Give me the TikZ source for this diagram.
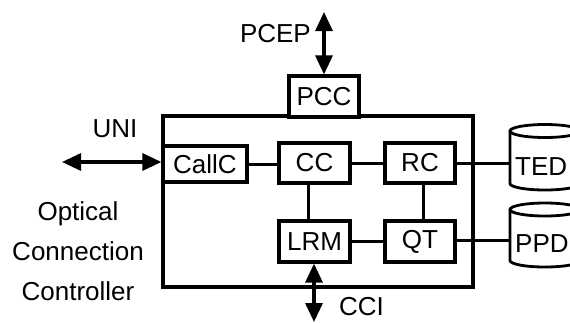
\documentclass[tikz,border=0pt]{standalone}
\usepackage{fontspec}
\setmainfont{Liberation Sans}
\usetikzlibrary{arrows.meta}
\begin{document}
\begin{tikzpicture}[x=1pt,y=-1pt,
  every node/.style={font=\fontsize{26}{31}\selectfont},
  blk/.style={draw, line width=3.2pt, inner sep=0pt, fill=white},
  conn/.style={line width=3pt},
  biarrow/.style={line width=3.2pt, {Triangle[length=19pt,width=17pt]}-{Triangle[length=19pt,width=17pt]}},
  cyl/.style={line width=2.8pt}
]
\clip (0,0) rectangle (570,322);
\fill[white] (0,0) rectangle (570,322);

% main box
\node[draw, line width=3.2pt, minimum width=310pt, minimum height=171pt, inner sep=0pt] (main) at (318,201.5) {};

% inner blocks
\node[blk, minimum width=84pt, minimum height=36pt] (callc) at (205,164) {CallC};
\node[blk, minimum width=71pt, minimum height=40pt] (cc) at (314.5,163) {CC};
\node[blk, minimum width=70pt, minimum height=40pt] (rc) at (420,163) {RC};
\node[blk, minimum width=71pt, minimum height=41pt] (lrm) at (314.5,241.5) {LRM};
\node[blk, minimum width=70pt, minimum height=41pt] (qt) at (420,241.5) {QT};
\node[blk, minimum width=70pt, minimum height=41pt] (pcc) at (324,96.5) {PCC};

% cylinders
\coordinate (tedL) at (510,163);
\coordinate (ppdL) at (510,240);
\draw[cyl] (510,131) -- (510,183.5) .. controls (510,187.1) and (525.7,190) .. (545,190)
  .. controls (564.3,190) and (580,187.1) .. (580,183.5) -- (580,131);
\draw[cyl] (545,131) ellipse [x radius=35, y radius=6.5];
\node[anchor=base west, inner sep=0pt] (ted) at (515,175) {TED};
\draw[cyl] (510,209.5) -- (510,260.5) .. controls (510,264.1) and (525.7,267) .. (545,267)
  .. controls (564.3,267) and (580,264.1) .. (580,260.5) -- (580,209.5);
\draw[cyl] (545,209.5) ellipse [x radius=35, y radius=6.5];
\node[anchor=base west, inner sep=0pt] (ppd) at (515,252) {PPD};

% connectors
\draw[conn] (callc.east) -- (cc.west |- callc.east);
\draw[conn] (cc.east) -- (rc.west);
\draw[conn] (lrm.east) -- (qt.west);
\draw[conn] (308,0 |- cc.south) -- (308,0 |- lrm.north);
\draw[conn] (423,0 |- rc.south) -- (423,0 |- qt.north);
\draw[conn] (rc.east) -- (tedL);
\draw[conn] (qt.east |- ppdL) -- (ppdL);

% arrows
\coordinate (pcepT) at (324,12);
\coordinate (uniL) at (62,162);
\coordinate (cciB) at (314,322);
\draw[biarrow] (pcepT) -- (pcepT |- pcc.north);
\draw[biarrow] (uniL) -- (callc.west |- uniL);
\draw[biarrow] (314,0 |- lrm.south) -- (cciB);

% labels
\node[anchor=east, inner sep=0pt] (pcep) at (311,34) {PCEP};
\node[inner sep=0pt] (uni) at (115,128.5) {UNI};
\node[anchor=base west, inner sep=0pt] (cci) at (339,315) {CCI};
\node[anchor=base, inner sep=0pt] (t1) at (78,220) {Optical};
\node[anchor=base, inner sep=0pt] (t2) at (78,260.5) {Connection};
\node[anchor=base, inner sep=0pt] (t3) at (78,300.5) {Controller};
\end{tikzpicture}
\end{document}
